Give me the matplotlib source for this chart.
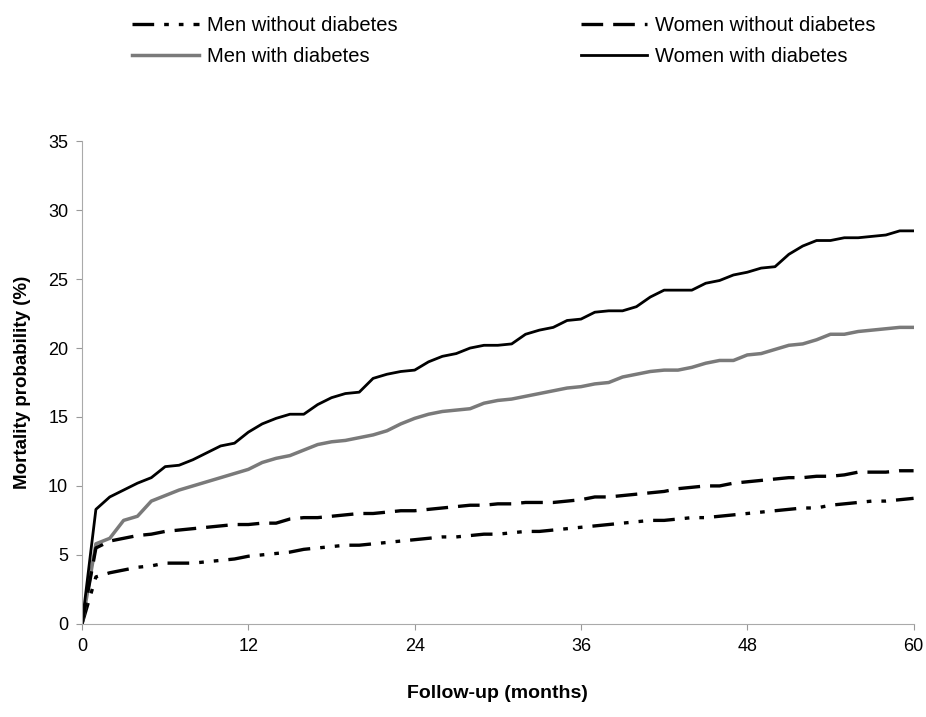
import matplotlib
matplotlib.use("Agg")
from matplotlib import pyplot as plt

months = list(range(0, 61))

women_diab = [0, 8.3, 9.2, 9.7, 10.2, 10.6, 11.4, 11.5, 11.9, 12.4, 12.9,
              13.1, 13.9, 14.5, 14.9, 15.2, 15.2, 15.9, 16.4, 16.7, 16.8,
              17.8, 18.1, 18.3, 18.4, 19.0, 19.4, 19.6, 20.0, 20.2, 20.2,
              20.3, 21.0, 21.3, 21.5, 22.0, 22.1, 22.6, 22.7, 22.7, 23.0,
              23.7, 24.2, 24.2, 24.2, 24.7, 24.9, 25.3, 25.5, 25.8, 25.9,
              26.8, 27.4, 27.8, 27.8, 28.0, 28.0, 28.1, 28.2, 28.5, 28.5]

men_diab = [0, 5.8, 6.2, 7.5, 7.8, 8.9, 9.3, 9.7, 10.0, 10.3, 10.6,
            10.9, 11.2, 11.7, 12.0, 12.2, 12.6, 13.0, 13.2, 13.3, 13.5,
            13.7, 14.0, 14.5, 14.9, 15.2, 15.4, 15.5, 15.6, 16.0, 16.2,
            16.3, 16.5, 16.7, 16.9, 17.1, 17.2, 17.4, 17.5, 17.9, 18.1,
            18.3, 18.4, 18.4, 18.6, 18.9, 19.1, 19.1, 19.5, 19.6, 19.9,
            20.2, 20.3, 20.6, 21.0, 21.0, 21.2, 21.3, 21.4, 21.5, 21.5]

women_nodiab = [0, 5.5, 6.0, 6.2, 6.4, 6.5, 6.7, 6.8, 6.9, 7.0, 7.1,
                7.2, 7.2, 7.3, 7.3, 7.6, 7.7, 7.7, 7.8, 7.9, 8.0,
                8.0, 8.1, 8.2, 8.2, 8.3, 8.4, 8.5, 8.6, 8.6, 8.7,
                8.7, 8.8, 8.8, 8.8, 8.9, 9.0, 9.2, 9.2, 9.3, 9.4,
                9.5, 9.6, 9.8, 9.9, 10.0, 10.0, 10.2, 10.3, 10.4, 10.5,
                10.6, 10.6, 10.7, 10.7, 10.8, 11.0, 11.0, 11.0, 11.1, 11.1]

men_nodiab = [0, 3.4, 3.7, 3.9, 4.1, 4.2, 4.4, 4.4, 4.4, 4.5, 4.6,
              4.7, 4.9, 5.0, 5.1, 5.2, 5.4, 5.5, 5.6, 5.7, 5.7,
              5.8, 5.9, 6.0, 6.1, 6.2, 6.3, 6.3, 6.4, 6.5, 6.5,
              6.6, 6.7, 6.7, 6.8, 6.9, 7.0, 7.1, 7.2, 7.3, 7.4,
              7.5, 7.5, 7.6, 7.7, 7.7, 7.8, 7.9, 8.0, 8.1, 8.2,
              8.3, 8.4, 8.4, 8.6, 8.7, 8.8, 8.9, 8.9, 9.0, 9.1]

xticks = [0, 12, 24, 36, 48, 60]
yticks = [0, 5, 10, 15, 20, 25, 30, 35]

plt.rcParams["font.family"] = ["Liberation Sans", "DejaVu Sans"]

fig = plt.figure(figsize=(9.26, 7.17), dpi=100)
ax = fig.add_axes([0.0886, 0.130, 0.898, 0.673])

l1, = ax.plot(months, men_nodiab, color="black", lw=2.4,
              linestyle=(0, (6.5, 3, 1.4, 3, 1.4, 3)), label="Men without diabetes")
l2, = ax.plot(months, men_diab, color="#7a7a7a", lw=2.5, label="Men with diabetes")
l3, = ax.plot(months, women_nodiab, color="black", lw=2.4,
              linestyle=(0, (6.5, 3)), label="Women without diabetes")
l4, = ax.plot(months, women_diab, color="black", lw=2.0, label="Women with diabetes")

ax.set_xlim(0, 60)
ax.set_ylim(0, 35)
ax.set_xticks(xticks)
ax.set_yticks(yticks)
ax.set_xticklabels([str(t) for t in xticks], fontsize=13)
ax.set_yticklabels([str(t) for t in yticks], fontsize=13)
ax.tick_params(axis="both", direction="out", length=4, color="#999999", width=0.8, pad=6)

for side in ["top", "right"]:
    ax.spines[side].set_visible(False)
for side in ["left", "bottom"]:
    ax.spines[side].set_color("#aaaaaa")
    ax.spines[side].set_linewidth(0.8)

ax.set_xlabel("Follow-up (months)", fontsize=14, fontweight="bold", labelpad=22)
ax.set_ylabel("Mortality probability (%)", fontsize=13.5, fontweight="bold", labelpad=12)

# two legend columns placed separately above the plot
leg_kw = dict(loc="upper left", frameon=False, prop={"size": 14.5},
              handlelength=3.3, handletextpad=0.4, labelspacing=0.55,
              borderpad=0, borderaxespad=0)
leg1 = fig.legend(handles=[l1, l2], bbox_to_anchor=(0.143, 0.977), **leg_kw)
leg2 = fig.legend(handles=[l3, l4], bbox_to_anchor=(0.627, 0.977), **leg_kw)

fig.savefig("out.png", dpi=100)
